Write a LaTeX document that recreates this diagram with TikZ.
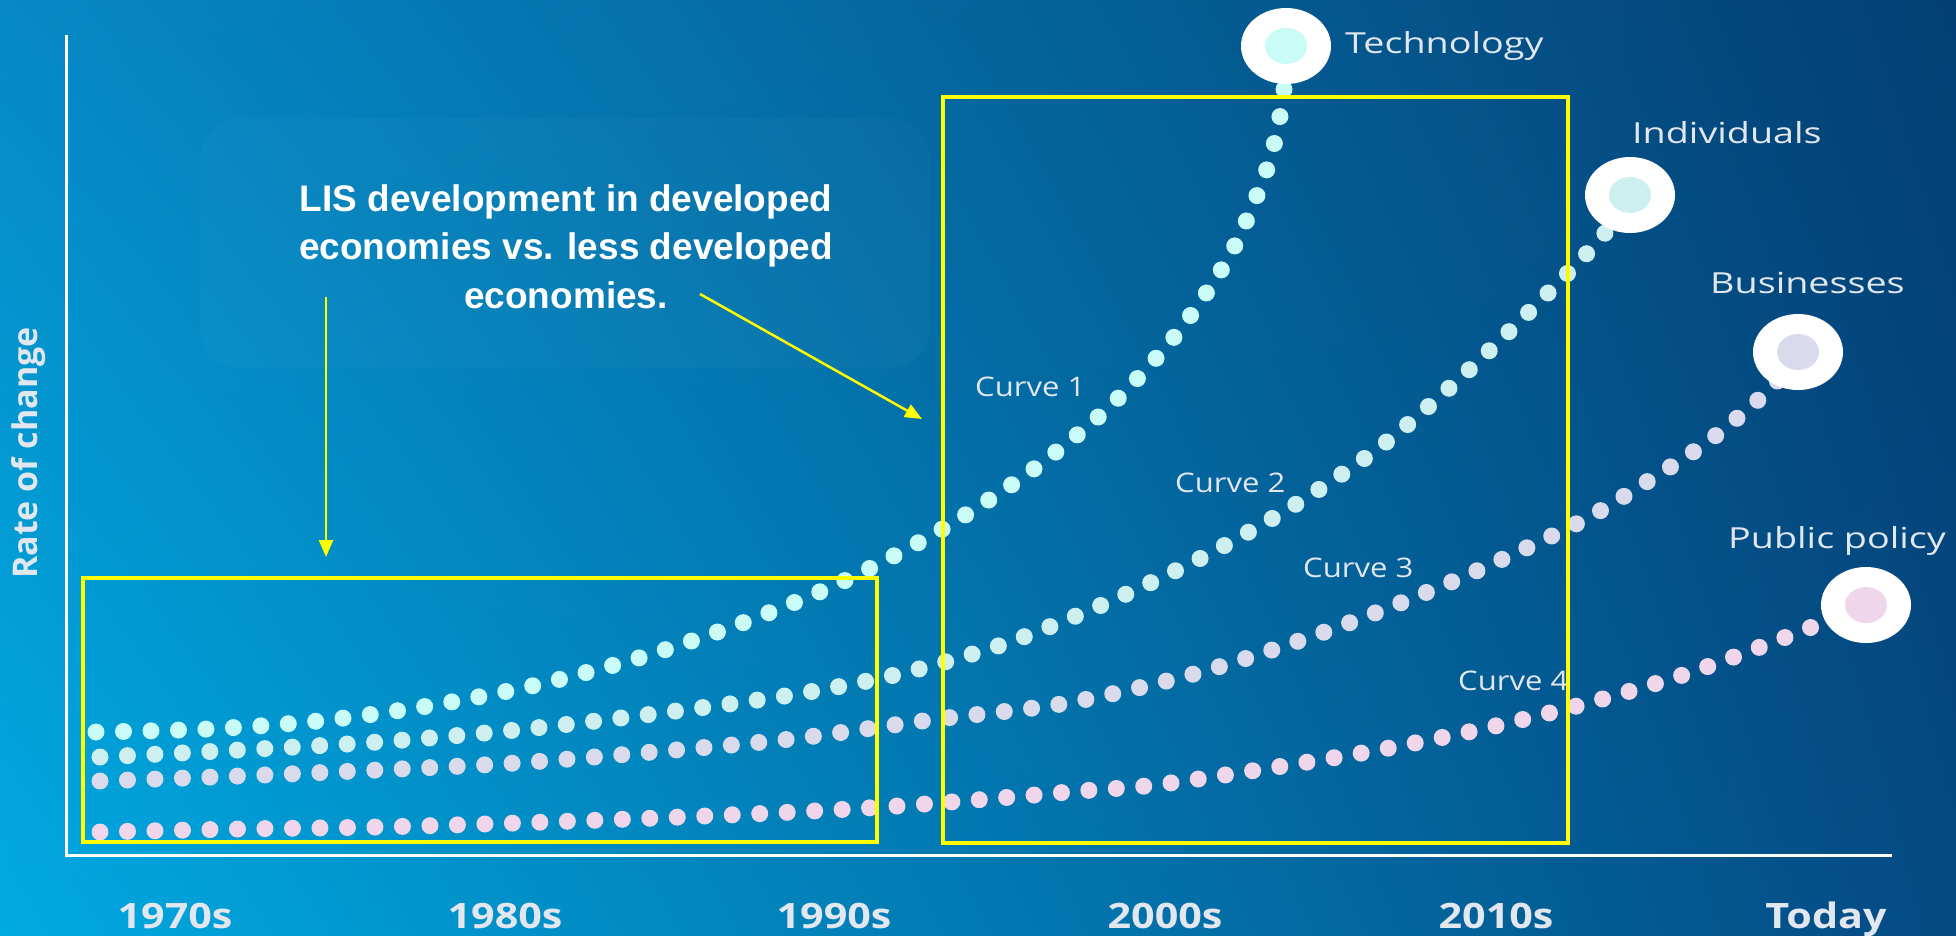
\documentclass[tikz,border=0pt]{standalone}
\usepackage{fontspec}
\usetikzlibrary{arrows.meta,shapes.geometric,shadings}
\setmainfont{Open Sans}
\newfontfamily\tagfont[FakeStretch=1.3]{Open Sans}
\newfontfamily\curvefont[FakeStretch=1.15]{Open Sans}
\newfontfamily\yearfont[FakeStretch=1.18]{Open Sans}
\newfontfamily\notefont{Liberation Sans}
\definecolor{bgul}{HTML}{0689C5}
\definecolor{bgur}{HTML}{033F73}
\definecolor{bgll}{HTML}{00AAE2}
\definecolor{bglr}{HTML}{044A83}
\definecolor{labgray}{HTML}{E2E6EE}
\definecolor{hiyellow}{HTML}{FFFF00}
\definecolor{techcol}{HTML}{C9FCF6}
\definecolor{indivcol}{HTML}{CDEFF0}
\definecolor{busicol}{HTML}{D9DAEC}
\definecolor{pubcol}{HTML}{EFD6EA}

\begin{document}
\begin{tikzpicture}[x=1pt,y=-1pt,
            dotline/.style = {line width=17pt, line cap=round,
                              dash pattern=on 0pt off 27.5pt},
            ringout/.style = {shape=ellipse, fill=white, inner sep=0pt,
                              minimum width=90pt, minimum height=76pt},
            ringin/.style = {shape=ellipse, inner sep=0pt,
                             minimum width=42pt, minimum height=36pt},
            taglab/.style = {anchor=base west, inner sep=0pt, text=labgray,
                             font=\tagfont\fontsize{29}{34}\selectfont},
            curvelab/.style = {anchor=base west, inner sep=0pt, text=labgray,
                               font=\curvefont\fontsize{27}{32}\selectfont},
            yearlab/.style = {anchor=base, inner sep=0pt, text=labgray,
                              font=\yearfont\bfseries\fontsize{35}{40}\selectfont},
            hibox/.style = {draw=hiyellow, line width=4pt},
            notearrow/.style = {draw=hiyellow, line width=2.5pt,
                                -{Triangle[length=17pt,width=14pt]}}]
    \useasboundingbox (0,0) rectangle (1956,935);
    \shade[upper left=bgul, upper right=bgur, lower left=bgll, lower right=bglr]
        (0,0) rectangle (1956,935);
    \fill[white, opacity=0.025, rounded corners=40pt] (200,118) rectangle (930,368);

    \draw[white, line width=3pt] (66,35) -- (66,855) -- (1892,855);
    \node[rotate=90, inner sep=0pt, text=labgray,
          font=\bfseries\fontsize{34}{40}\selectfont] (rate) at (29,453) {Rate of change};
    \foreach \yr/\xx in {1970s/175, 1980s/505, 1990s/834, 2000s/1165, 2010s/1496, Today/1826}
        \node[yearlab] (y\yr) at (\xx,928) {\yr};

    \coordinate (tech) at (1286,46);
    \coordinate (indiv) at (1630,195);
    \coordinate (busi) at (1798,352);
    \coordinate (pub) at (1866,605);

    \draw[dotline, techcol] plot[smooth] coordinates {(96,732) (208,729) (318,721) (428,706)
        (536,685) (642,657) (745,622) (844,581) (939,531) (1027,474) (1107,409) (1175,336)
        (1230,255) (1268,166) (1283,98) (tech)};
    \draw[dotline, indivcol] plot[smooth] coordinates {(100,757) (239,750) (378,742) (516,730)
        (653,714) (791,695) (899,674) (1004,644) (1104,604) (1201,558) (1293,506) (1380,447)
        (1457,381) (1531,310) (1601,238) (indiv)};
    \draw[dotline, busicol] plot[smooth] coordinates {(100,781) (239,776) (378,770) (516,763)
        (653,752) (791,739) (930,720) (1067,703) (1201,672) (1330,630) (1456,580) (1578,523)
        (1645,483) (1710,440) (1771,388) (busi)};
    \draw[dotline, pubcol] plot[smooth] coordinates {(100,832) (239,829) (378,827) (516,823)
        (656,818) (794,812) (898,806) (1000,798) (1080,791) (1155,785) (1264,769) (1373,751)
        (1482,729) (1588,703) (1692,672) (1794,634) (pub)};

    \node[ringout] (techring) at (tech) {};
    \node[ringin, fill=techcol] at (tech) {};
    \node[ringout] (indivring) at (indiv) {};
    \node[ringin, fill=indivcol] at (indiv) {};
    \node[ringout] (busiring) at (busi) {};
    \node[ringin, fill=busicol] at (busi) {};
    \node[ringout] (pubring) at (pub) {};
    \node[ringin, fill=pubcol] at (pub) {};

    \node[taglab] (techlab) at (1345,53) {Technology};
    \node[taglab] (indivlab) at (1632,143) {Individuals};
    \node[taglab] (busilab) at (1710,293) {Businesses};
    \node[taglab] (publab) at (1728,548) {Public policy};

    \node[curvelab] (cv1) at (975,396) {Curve 1};
    \node[curvelab] (cv2) at (1175,492) {Curve 2};
    \node[curvelab] (cv3) at (1303,577) {Curve 3};
    \node[curvelab] (cv4) at (1458,690) {Curve 4};

    \draw[hibox] (83,578) rectangle (877,842);
    \draw[hibox] (943,97) rectangle (1568,843);

    \node[anchor=north, inner sep=0pt, align=center, text=white,
          font=\notefont\bfseries\fontsize{37}{48.5}\selectfont] (note) at (566,184)
        {LIS development in developed\\economies vs. less developed\\economies.};
    \coordinate (la) at (326,297);
    \coordinate (lb) at (326,557);
    \coordinate (ra) at (700,294);
    \coordinate (rb) at (922,419);
    \draw[notearrow] (la) -- (lb);
    \draw[notearrow] (ra) -- (rb);
\end{tikzpicture}
\end{document}
